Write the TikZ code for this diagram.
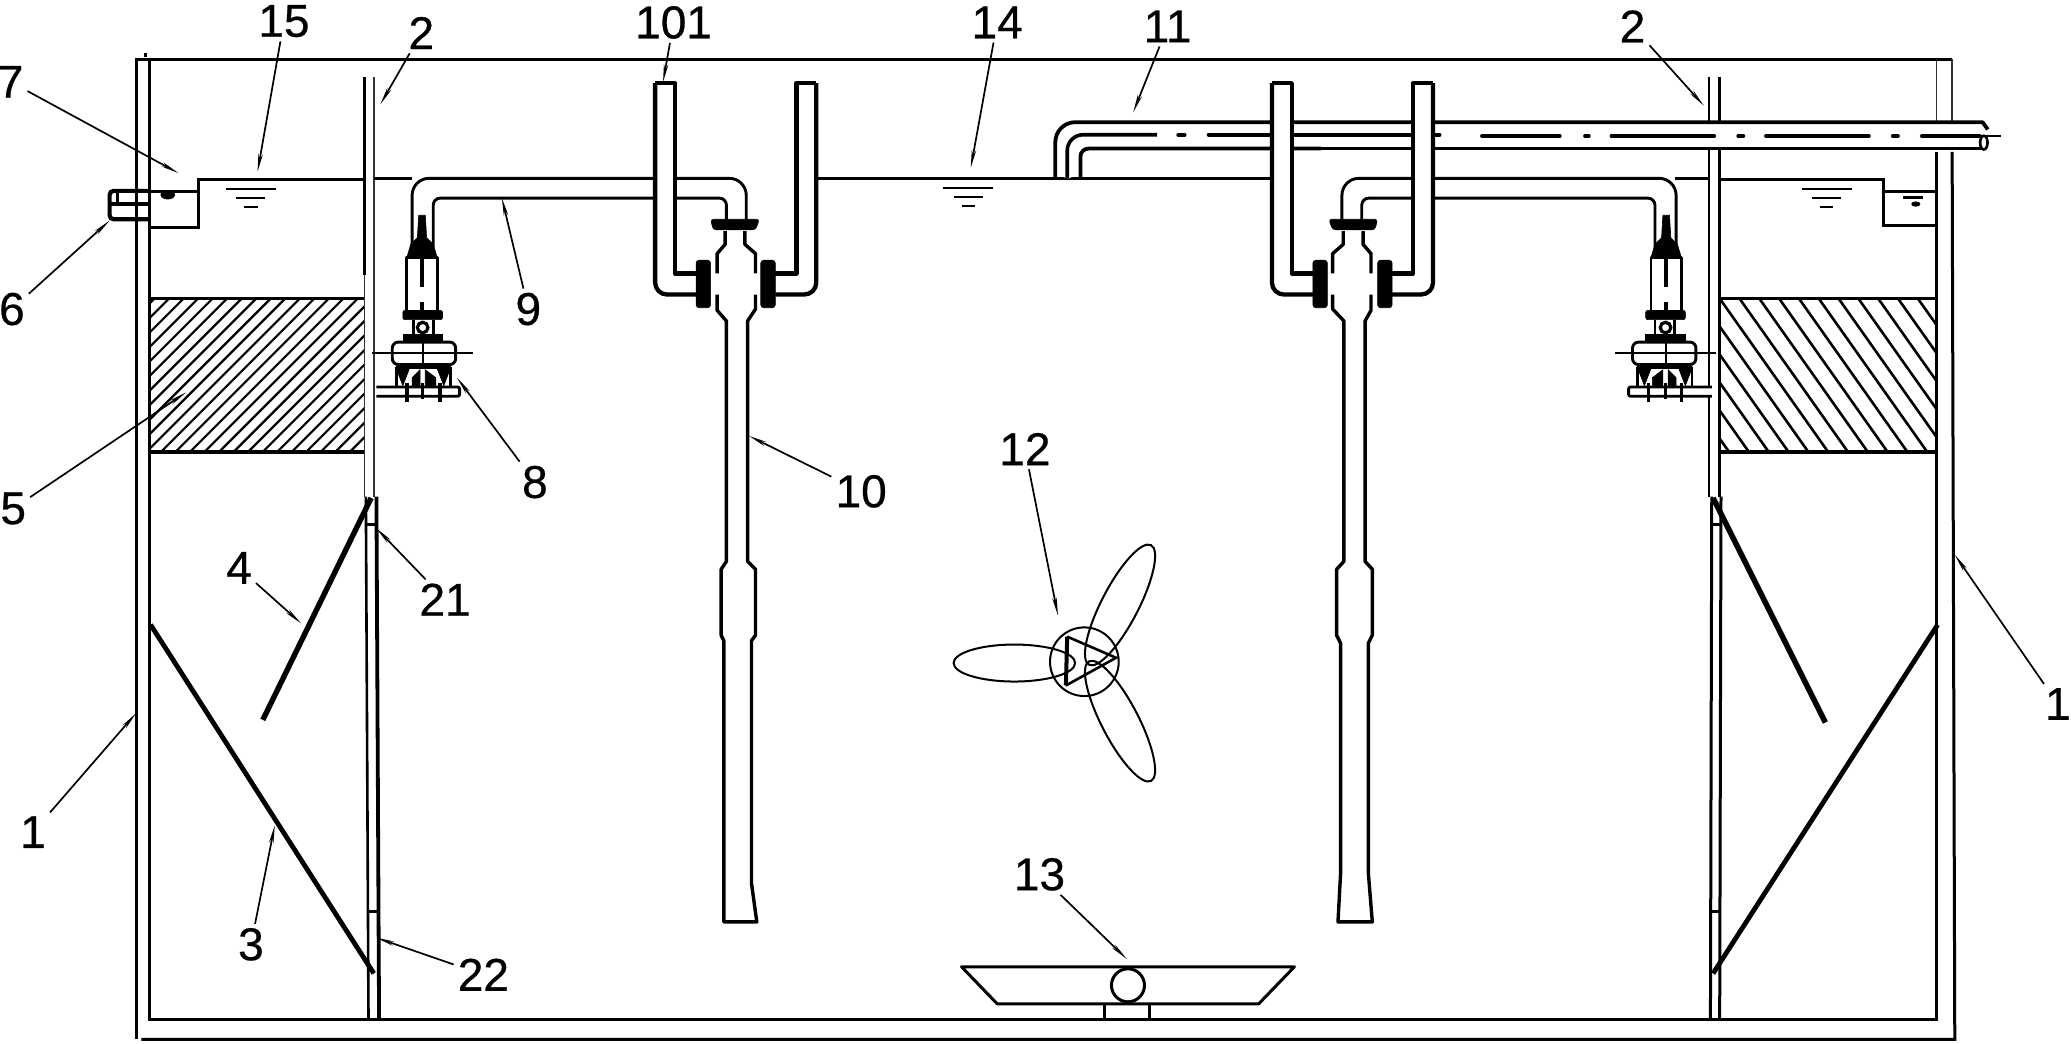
\documentclass[tikz,border=0pt]{standalone}
\usepackage{fontspec}
\setmainfont{Liberation Sans}[FakeBold=0.6]
\usetikzlibrary{arrows.meta}
\tikzset{
 wall/.style={line width=3pt,black},
 thinwall/.style={line width=1.5pt,black!80},
 pipeline/.style={line width=2.9pt,black,line join=round},
 heavy/.style={line width=4.3pt,black,line join=round},
 blackpart/.style={fill=black,draw=black,line width=.6pt},
 hatchline/.style={line width=2.6pt,black},
 fanline/.style={line width=2pt,black},
 leader/.style={line width=1.7pt,black,-{Stealth[length=18pt,width=4.5pt]}},
 lbl/.style={font=\fontsize{46}{50}\selectfont,inner sep=4pt,black},
}
\newcommand{\waterbars}[2]{%
 \draw[line width=2pt] (#1-19,#2)--(#1+19,#2);
 \draw[line width=2pt] (#1-11,#2+7)--(#1+11,#2+7);
 \draw[line width=2pt] (#1-5,#2+14)--(#1+5,#2+14);
}
\newcommand{\pumpgroup}{%
 % pipe 9
 \draw[pipeline,rounded corners=17pt] (312,192)--(312,135)--(565,135)--(565,172);
 \draw[pipeline,rounded corners=7pt] (328,192)--(328,150)--(550,150)--(550,172);
 % pump
 \draw[blackpart] (308,195)--(311,185)--(316,180)--(317,163)--(322,163)--(323,180)--(328,185)--(331,195)--cycle;
 \draw[pipeline,fill=white] (308,195)--(308,236)--(331,236)--(331,195)--cycle;
 \draw[line width=3.6pt] (319.5,195)--(319.5,217) (319.5,229)--(319.5,236);
 \draw[blackpart,rounded corners=2pt] (305,235)--(335,235)--(335,242)--(305,242)--cycle;
 \draw[pipeline] (313,242)--(313,254) (328,242)--(328,254);
 \draw[line width=3.2pt] (320,248) circle[radius=4];
 \draw[blackpart] (305,253)--(335,253)--(335,258)--(305,258)--cycle;
 \draw[pipeline,fill=white,rounded corners=6pt] (297,259)--(345,259)--(345,276)--(297,276)--cycle;
 \draw[line width=2pt] (282,267)--(358,267);
 \draw[line width=2pt] (320,257)--(320,302);
 \draw[pipeline,fill=white] (300,278)--(341,278)--(341,296)--(300,296)--cycle;
 \draw[blackpart] (300,279)--(310,279)--(305,292)--cycle (312,286)--(318,280)--(318,296)--(312,296)--cycle (341,279)--(331,279)--(336,292)--cycle (322,280)--(330,286)--(330,296)--(322,296)--cycle;
 \draw[pipeline,rounded corners=2pt,fill=white] (285,293)--(348,293)--(348,300)--(285,300);
 \draw[line width=3.6pt] (308,290)--(308,304) (333,290)--(333,304) (320,290)--(320,302);
 % bell of the lift pipe
 \draw[heavy,line width=3.4pt] (549,175)--(549,185)--(543,192)--(543,207);
 \draw[heavy,line width=3.4pt] (564,175)--(564,185)--(572,192)--(572,207);
 \fill[white] (497,64)--(510,64)--(510,208)--(544,208)--(544,222)--(510,222)--(497,210)--cycle;
 \fill[white] (603,64)--(617,64)--(617,210)--(605,222)--(571,222)--(571,208)--(603,208)--cycle;
 \draw[heavy,rounded corners=12pt] (527,223)--(496,223)--(496,63);
 \draw[heavy] (496,63)--(511,63)--(511,207)--(527,207);
 \draw[heavy,rounded corners=12pt] (587,223)--(618,223)--(618,63);
 \draw[heavy] (618,63)--(603,63)--(603,207)--(587,207);
 \draw[blackpart,rounded corners=3pt] (538,166)--(575,166)--(572,174)--(540,174)--cycle;
 \draw[blackpart,rounded corners=3pt] (527,197)--(538,197)--(538,233)--(527,233)--cycle;
 \draw[blackpart,rounded corners=3pt] (576,197)--(587,197)--(587,233)--(576,233)--cycle;
}
\begin{document}
\begin{tikzpicture}[x=1.3208pt,y=-1.3208pt]
\useasboundingbox (0,0) rectangle (1568,790.43);
\fill[white] (0,0) rectangle (1568,790.43);
% hatch fields
\begin{scope}
 \clip (113,226) rectangle (276,342);
 \foreach \x in {-10,1,...,276} \draw[hatchline,line width=2.2pt] (\x,342)--(\x+116,226);
\end{scope}
\begin{scope}
 \clip (1302,226) rectangle (1465,342);
 \foreach \x in {1212,1227,...,1470} \draw[hatchline] (\x,226)--(\x+82,342);
\end{scope}
\draw[wall] (113,226)--(276,226);
\draw[wall,line width=4.4pt] (113,342)--(276,342);
\draw[wall] (1302,226)--(1465,226);
\draw[wall,line width=4.4pt] (1302,342)--(1465,342);
% tank
\draw[wall] (103,787)--(103,45)--(1478,45);
\draw[wall] (113,45)--(113,772)--(1466,772)--(1466,115);
\draw[wall] (1478,115)--(1480,787)--(107,787);
\draw[thinwall] (1466,45)--(1466,92) (1478,45)--(1478,92);
\draw[wall] (110,40)--(110,43);
% baffles
\draw[wall,line width=3.4pt] (276,58)--(276,208);
\draw[thinwall] (276,208)--(276,376);
\draw[thinwall] (283,58)--(283,376);
\draw[wall,line width=2.6pt] (277,376)--(279,772);
\draw[wall,line width=3.8pt] (285,376)--(287,772);
\draw[wall] (278,397)--(285,397) (279,690)--(286,690);
\draw[wall,line width=2.6pt] (1294,58)--(1294,376);
\draw[wall,line width=2.6pt] (1302,58)--(1302,376);
\draw[wall] (1296,376)--(1295,772);
\draw[wall] (1303,376)--(1302,772);
\draw[wall] (1296,397)--(1303,397) (1295,690)--(1302,690);
% inclined plates
\draw[line width=5.4pt] (281,377)--(199,545);
\draw[line width=4.8pt] (114,473)--(283,737);
\draw[line width=5.4pt] (1297,377)--(1382,547);
\draw[line width=4.8pt] (1467,473)--(1297,737);
% water levels and weirs
\draw[wall] (113,172)--(150,172)--(150,136)--(276,136);
\draw[wall] (113,145)--(150,145);
\draw[wall] (283,135)--(312,135);
\draw[wall] (618,135)--(963,135);
\draw[wall] (1268,135)--(1294,135);
\draw[wall] (1302,136)--(1426,136)--(1426,171)--(1466,171);
\draw[wall] (1426,145)--(1466,145);
\draw[line width=2.8pt] (1441,149.5)--(1456,149.5);
\fill (1450.5,154.5) ellipse[x radius=3.5,y radius=2];
\fill (127,147.5) ellipse[x radius=5.5,y radius=3.5];
\waterbars{190}{143}
\waterbars{733}{142}
\waterbars{1383}{143}
% outlet 6
\draw[wall,line width=4.2pt,rounded corners=4pt] (113,144.5)--(83,144.5)--(83,166)--(113,166);
\draw[wall,line width=3.4pt] (83,154.5)--(113,154.5);
\draw[wall] (89,145)--(89,154);
% return pipe 11
\fill[white,rounded corners=14pt] (799,135)--(799,92)--(1505,92)--(1505,113)--(818,113)--(818,135)--cycle;
\draw[heavy,line width=3.8pt,rounded corners=20pt] (799,135)--(799,92.5)--(1000,92.5);
\draw[heavy,line width=3.8pt] (1000,92.5)--(1501,92.5)--(1505,98);
\draw[heavy,line width=3.8pt,rounded corners=8pt] (818,135)--(818,112.5)--(1000,112.5);
\draw[heavy,line width=3.8pt] (1000,112.5)--(1503,112.5);
\draw[heavy,line width=3.6pt,rounded corners=16pt] (808,135)--(808,102)--(876,102);
\draw[heavy,line width=3.6pt,line cap=round] (892,102)--(897,102) (915,102)--(1090,102) (1122,103)--(1181,103) (1200,103)--(1203,103) (1220,103)--(1298,103) (1316,103)--(1320,103) (1337,103)--(1415,103) (1433,103)--(1437,103) (1455,103)--(1499,103);
\draw[line width=2pt] (1499,103)--(1515,103);
\draw[line width=2.6pt,fill=white] (1502,108) ellipse[x radius=2.8,y radius=5.2];
% pump and lift groups
\pumpgroup
\begin{scope}[shift={(1581,0)},xscale=-1]
 \pumpgroup
\end{scope}
% suction tubes 10
\draw[heavy,line width=3.4pt] (543,223)--(543,235)--(550,243)--(550,425)--(546,431)--(546,481)--(548,485)--(548,698)--(573,698)--(569,669)--(569,485)--(572,481)--(572,431)--(566,425)--(566,243)--(572,234)--(572,223);
\draw[heavy,line width=3.4pt] (1009,223)--(1009,234)--(1017.5,243)--(1017.5,425)--(1012,431)--(1012,481)--(1015,487)--(1015,661)--(1013,698)--(1039,698)--(1036,661)--(1036,487)--(1039,481)--(1039,431)--(1033.5,425)--(1033.5,243)--(1038,235)--(1038,223);
% mixer 12
\draw[fanline] (821,501) circle[radius=26];
\draw[fanline] (768,502) ellipse[x radius=46,y radius=14];
\draw[fanline,rotate around={62.6:(848,458)}] (848,458) ellipse[x radius=51,y radius=14];
\draw[fanline,rotate around={-62.6:(848,546)}] (848,546) ellipse[x radius=51,y radius=14];
\draw[fanline,line width=4pt] (808,482)--(807,519);
\draw[fanline,line width=2.6pt] (808,482)--(845,498)--(807,519);
% aerator 13
\draw[wall,line join=round] (728,732)--(980,732)--(953,760)--(755,760)--cycle;
\draw[wall,fill=white] (854,746) circle[radius=12.5];
\draw[wall] (836,760)--(836,772) (870,760)--(870,772);
% labels
\node[lbl] (l15) at (215,16) {15};
\node[lbl] (l2a) at (319,25) {2};
\node[lbl] (l101) at (510,17) {101};
\node[lbl] (l14) at (755,17) {14};
\node[lbl] (l11) at (884,20) {11};
\node[lbl] (l2b) at (1236,20) {2};
\node[lbl] (l7) at (8,62) {7};
\node[lbl] (l6) at (9,234) {6};
\node[lbl] (l9) at (400,234) {9};
\node[lbl] (l5) at (10,385) {5};
\node[lbl] (l8) at (405,365) {8};
\node[lbl] (l10) at (652,372) {10};
\node[lbl] (l12) at (776,340) {12};
\node[lbl] (l4) at (181,430) {4};
\node[lbl] (l21) at (337,454) {21};
\node[lbl] (l1a) at (25,630) {1};
\node[lbl] (l3) at (190,715) {3};
\node[lbl] (l22) at (366,738) {22};
\node[lbl] (l13) at (787,662) {13};
\node[lbl] (l1b) at (1558,533) {1};
% leader ends
\coordinate (a15) at (195,130);
\coordinate (a2a) at (288,79);
\coordinate (a101) at (502,62);
\coordinate (a14) at (735,127);
\coordinate (a11) at (858,85);
\coordinate (a2b) at (1290,80);
\coordinate (a7) at (135,131);
\coordinate (a6) at (83,167);
\coordinate (a9) at (380,150);
\coordinate (a5) at (141,297);
\coordinate (a8) at (346,286);
\coordinate (a10) at (567,330);
\coordinate (a12) at (801,466);
\coordinate (a4) at (228,472);
\coordinate (a21) at (285,400);
\coordinate (a1a) at (103,540);
\coordinate (a3) at (208,625);
\coordinate (a22) at (285,710);
\coordinate (a13) at (853,726);
\coordinate (a1b) at (1480,420);
\foreach \n in {15,2a,101,14,11,2b,7,6,9,5,8,10,12,4,21,1a,3,22,13,1b}
 \draw[leader] (l\n) -- (a\n);
\end{tikzpicture}
\end{document}
